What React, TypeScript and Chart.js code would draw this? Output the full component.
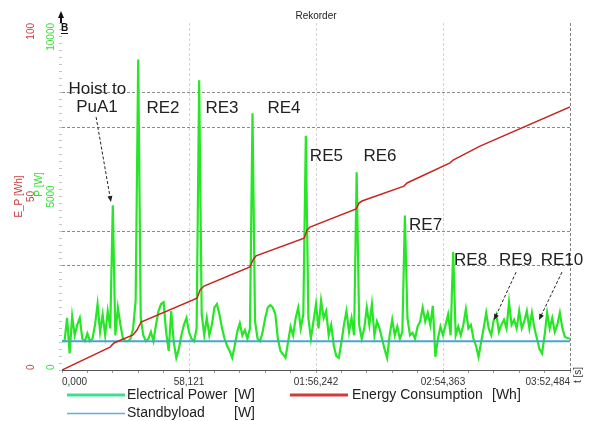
import React, { useEffect, useRef } from 'react';
import { Chart, registerables } from 'chart.js';

Chart.register(...registerables);

const FONT = '"Liberation Sans", Arial, Helvetica, sans-serif';

// ---- axes ----
const timeMax = 232.484;
const xMinorStep = 11.6242;
const xMinorCount = 20;
const xTickLabels = ['0,000', '58,121', '01:56,242', '02:54,363', '03:52,484'];
const eTickValues = [0, 50, 100];
const eTickLabels = ['0', '50', '100'];
const pTickLabels = ['0', '5000', '10000'];
const cursorLines = [30, 40, 70, 80];

// ---- Energy consumption E_P [Wh] ----
const energyT = [0, 22.0, 23.8, 32.5, 34.3, 36.2, 61.8, 63.2, 65.0, 86.0, 87.4, 88.8, 110.8, 112.1, 113.5, 134.6, 135.9, 137.3, 156.5, 157.9, 177.6, 179.0, 191.3, 232.484];
const energyE = [0, 6.6, 7.8, 10.1, 11.5, 13.8, 20.7, 23.1, 24.2, 29.7, 31.7, 32.9, 38.0, 40.3, 41.2, 46.4, 48.1, 48.7, 53.0, 53.9, 59.7, 60.5, 64.5, 75.8];

// ---- Electrical power P [W], sampled every powerStep seconds ----
const powerStep = 1.16242;
const powerW = [
  830, 830, 1500, 480, 1550, 1000, 1300, 1500, 900, 830,
  1050, 830, 900, 1300, 1900, 1100, 1600, 1000, 1700, 1200,
  4750, 1000, 1800, 1300, 900, 830, 830, 900, 1200, 2000,
  8950, 1500, 1000, 830, 900, 1100, 830, 1300, 1700, 1900,
  1950, 1100, 550, 1700, 800, 350, 600, 1000, 1300, 1500,
  1100, 900, 830, 1200, 8350, 1600, 1000, 1500, 1000, 1300,
  1800, 1900, 1600, 1200, 900, 700, 550, 350, 700, 1100,
  1350, 1000, 1150, 900, 1200, 7400, 1400, 900, 830, 1100,
  1500, 1800, 1870, 1800, 1600, 900, 550, 450, 350, 800,
  1250, 1000, 1500, 1800, 1200, 1600, 6750, 1500, 900, 1400,
  1900, 1200, 2000, 1500, 1700, 1000, 1300, 700, 400, 350,
  800, 1300, 1700, 1100, 1500, 1000, 5700, 1300, 900, 1200,
  1800, 1300, 1900, 1000, 1400, 1200, 900, 600, 350, 1000,
  1450, 1000, 1250, 900, 1100, 4450, 1500, 1000, 1070, 900,
  1250, 1400, 1800, 1400, 1650, 1300, 1850, 380, 900, 1250,
  1000, 1300, 1600, 1000, 3400, 1000, 1250, 1000, 1300, 1750,
  1200, 1300, 900, 700, 380, 800, 1200, 1650, 1200, 1000,
  1450, 1600, 1100, 1300, 1450, 1200, 1950, 1300, 1450, 1200,
  1700, 1200, 1400, 1700, 1200, 1650, 1200, 900, 600, 480,
  1000, 1650, 1200, 1500, 1100, 1300, 1650, 1200, 950, 920, 900,
];

// ---- Standby load [W] ----
const standbyW = 825;

// ---- annotations (time s, value on 0..100 scale) ----
const labelTexts = ['Hoist to', 'PuA1', 'RE2', 'RE3', 'RE4', 'RE5', 'RE6', 'RE7', 'RE8', 'RE9', 'RE10'];
const labelT = [16.2, 16.0, 46.2, 73.2, 101.6, 121.0, 145.5, 166.4, 187.0, 207.6, 228.8];
const labelV = [81.0, 75.8, 75.5, 75.5, 75.5, 61.7, 61.7, 41.6, 31.7, 31.7, 31.7];
const arrowFromT = [15.6, 207.8, 228.8];
const arrowFromV = [72.9, 28.2, 28.2];
const arrowToT = [22.4, 197.7, 218.3];
const arrowToV = [48.4, 14.4, 14.4];

const RED = '#c4261e';
const RED_TXT = '#c84040';
const GREEN = '#26e626';
const GREEN_TXT = '#33dd33';
const BLUE = '#4aa6c8';

const overlay = {
  id: 'overlay',
  afterDraw(chart: any) {
    const { ctx, chartArea, scales } = chart;
    const xs = scales.x;
    const ys = scales.y;
    ctx.save();

    // title
    ctx.fillStyle = '#222';
    ctx.font = `10px ${FONT}`;
    ctx.textAlign = 'center';
    ctx.textBaseline = 'middle';
    ctx.fillText('Rekorder', (chartArea.left + chartArea.right) / 2, 16);

    const rot = (text: string, x: number, y: number, align: string, color: string, font: string) => {
      ctx.save();
      ctx.translate(x, y);
      ctx.rotate(-Math.PI / 2);
      ctx.textAlign = align;
      ctx.textBaseline = 'middle';
      ctx.fillStyle = color;
      ctx.font = font;
      ctx.fillText(text, 0, 0);
      ctx.restore();
    };

    const f10 = `10px ${FONT}`;
    eTickValues.forEach((v, i) => {
      const py = ys.getPixelForValue(v);
      const align = i === 0 ? 'left' : i === eTickValues.length - 1 ? 'right' : 'center';
      rot(eTickLabels[i], 31, py, align, RED_TXT, f10);
      rot(pTickLabels[i], 51, py, align, GREEN_TXT, f10);
    });
    const midY = ys.getPixelForValue(50);
    rot('E_P [Wh]', 19.5, midY, 'center', RED_TXT, f10);
    rot('P [W]', 39, midY - 12, 'center', GREEN_TXT, f10);

    // x-axis unit
    rot('t [s]', chartArea.right + 8, chartArea.bottom + 5, 'center', '#333', f10);

    // cursor marker at top of axis
    const ax = chartArea.left;
    ctx.fillStyle = '#111';
    ctx.beginPath();
    ctx.moveTo(ax - 1, 11);
    ctx.lineTo(ax - 4, 18);
    ctx.lineTo(ax + 2, 18);
    ctx.closePath();
    ctx.fill();
    ctx.fillRect(ax - 2, 18, 2, 5);
    ctx.font = `bold 10px ${FONT}`;
    ctx.textAlign = 'left';
    ctx.textBaseline = 'middle';
    ctx.fillText('B', ax - 1, 28.5);
    ctx.fillRect(ax - 1, 33, 7, 1);

    // annotation texts
    ctx.fillStyle = '#222';
    ctx.font = `17px ${FONT}`;
    ctx.textAlign = 'center';
    ctx.textBaseline = 'middle';
    labelTexts.forEach((t, i) => {
      ctx.fillText(t, xs.getPixelForValue(labelT[i]), ys.getPixelForValue(labelV[i]));
    });

    // arrows
    ctx.strokeStyle = '#222';
    ctx.fillStyle = '#222';
    ctx.lineWidth = 1;
    arrowFromT.forEach((_, i) => {
      const x1 = xs.getPixelForValue(arrowFromT[i]);
      const y1 = ys.getPixelForValue(arrowFromV[i]);
      const x2 = xs.getPixelForValue(arrowToT[i]);
      const y2 = ys.getPixelForValue(arrowToV[i]);
      const ang = Math.atan2(y2 - y1, x2 - x1);
      ctx.setLineDash([3, 2]);
      ctx.beginPath();
      ctx.moveTo(x1, y1);
      ctx.lineTo(x2 - 4 * Math.cos(ang), y2 - 4 * Math.sin(ang));
      ctx.stroke();
      ctx.setLineDash([]);
      ctx.beginPath();
      ctx.moveTo(x2, y2);
      ctx.lineTo(x2 - 6 * Math.cos(ang) + 2.5 * Math.sin(ang), y2 - 6 * Math.sin(ang) - 2.5 * Math.cos(ang));
      ctx.lineTo(x2 - 6 * Math.cos(ang) - 2.5 * Math.sin(ang), y2 - 6 * Math.sin(ang) + 2.5 * Math.cos(ang));
      ctx.closePath();
      ctx.fill();
    });

    // legend
    const row1 = 395;
    const row2 = 413.5;
    const legLine = (x1: number, x2: number, y: number, color: string, w: number) => {
      ctx.strokeStyle = color;
      ctx.lineWidth = w;
      ctx.beginPath();
      ctx.moveTo(x1, y);
      ctx.lineTo(x2, y);
      ctx.stroke();
    };
    legLine(67, 125, row1, '#3ddf8f', 3);
    legLine(290, 348, row1, '#d43a3a', 3);
    legLine(67, 125, row2, '#5ab4dc', 1.5);
    ctx.fillStyle = '#222';
    ctx.font = `14px ${FONT}`;
    ctx.textAlign = 'left';
    ctx.textBaseline = 'middle';
    ctx.fillText('Electrical Power', 127, row1);
    ctx.fillText('[W]', 234, row1);
    ctx.fillText('Energy Consumption', 352, row1);
    ctx.fillText('[Wh]', 492, row1);
    ctx.fillText('Standbyload', 127, row2);
    ctx.fillText('[W]', 234, row2);

    ctx.restore();
  },
};

export default function App() {
  const ref = useRef<HTMLCanvasElement>(null);

  useEffect(() => {
    document.body.style.margin = '0';
    const canvas = ref.current;
    if (!canvas) return;

    const chart = new Chart(canvas, {
      type: 'line',
      data: {
        datasets: [
          {
            label: 'Energy Consumption [Wh]',
            data: energyT.map((t, i) => ({ x: t, y: energyE[i] })),
            yAxisID: 'y',
            borderColor: RED,
            borderWidth: 1.5,
            pointRadius: 0,
            tension: 0,
            order: 0,
          },
          {
            label: 'Standbyload [W]',
            data: [
              { x: 0, y: standbyW },
              { x: timeMax, y: standbyW },
            ],
            yAxisID: 'yP',
            borderColor: BLUE,
            borderWidth: 2,
            pointRadius: 0,
            order: 1,
          },
          {
            label: 'Electrical Power [W]',
            data: powerW.map((p, i) => ({ x: i * powerStep, y: p })),
            yAxisID: 'yP',
            borderColor: GREEN,
            borderWidth: 2.2,
            pointRadius: 0,
            tension: 0,
            order: 2,
          },
        ],
      },
      options: {
        animation: false,
        responsive: false,
        events: [],
        layout: { padding: { left: 59, top: 23, right: 19, bottom: 30 } },
        plugins: {
          legend: { display: false },
          tooltip: { enabled: false },
          title: { display: false },
        },
        scales: {
          x: {
            type: 'linear',
            min: 0,
            max: timeMax,
            afterBuildTicks: (axis: any) => {
              const ticks = [];
              for (let i = 0; i <= xMinorCount; i++) ticks.push({ value: Math.min(i * xMinorStep, timeMax) });
              axis.ticks = ticks;
            },
            ticks: {
              autoSkip: false,
              maxRotation: 0,
              minRotation: 0,
              align: 'inner',
              padding: 3,
              color: '#333',
              font: { family: FONT, size: 10 },
              callback: (_v: any, i: number) => (i % 5 === 0 ? xTickLabels[i / 5] : ''),
            },
            grid: {
              color: (c: any) => {
                const i = c.index;
                if (i % 5 !== 0 || i === 0) return 'rgba(0,0,0,0)';
                return i === xMinorCount ? '#808080' : '#d6d6d6';
              },
              tickColor: '#999',
              tickLength: 3,
              lineWidth: 1,
            },
            border: { display: true, color: '#555', width: 1, dash: [3, 2] },
          },
          y: {
            type: 'linear',
            position: 'left',
            min: 0,
            max: 100,
            afterBuildTicks: (axis: any) => {
              const ticks = [];
              for (let v = 0; v <= 100; v += 2) ticks.push({ value: v });
              axis.ticks = ticks;
            },
            ticks: { display: false },
            grid: {
              color: (c: any) => (c.tick && cursorLines.includes(c.tick.value) ? '#8a8a8a' : 'rgba(0,0,0,0)'),
              tickColor: '#c4c4c4',
              tickLength: 3,
              lineWidth: 1,
            },
            border: { display: false, dash: [3, 2] },
          },
          yP: {
            type: 'linear',
            display: false,
            min: 0,
            max: 10000,
          },
        },
      },
      plugins: [overlay],
    } as any);

    return () => chart.destroy();
  }, []);

  return (
    <div style={{ width: 589, height: 421 }}>
      <canvas ref={ref} width={589} height={421} style={{ display: 'block' }} />
    </div>
  );
}
